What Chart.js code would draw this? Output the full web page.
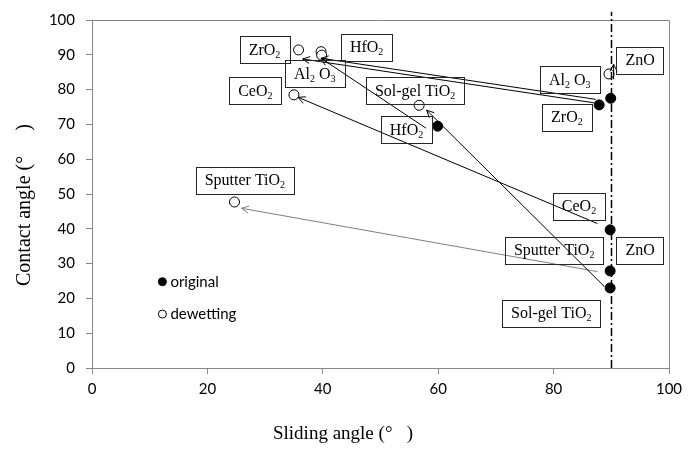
<!DOCTYPE html>
<html>
<head>
<meta charset="utf-8">
<script src="https://cdn.jsdelivr.net/npm/chart.js@4/dist/chart.umd.min.js"></script>
<style>
    html, body { margin: 0; padding: 0; background: #fff; }
    #wrap { width: 695px; height: 449px; }
</style>
</head>
<body>
<div id="wrap"><canvas id="chart" width="695" height="449"></canvas></div>
<script>
// Original state (filled markers)
const xOriginal = [87.9, 89.9, 59.9, 89.8, 89.8, 89.8];
const yOriginal = [75.6, 77.5, 69.5, 39.7, 27.9, 23.0];

// After dewetting (open markers)
const xDewetting = [35.8, 39.7, 39.8, 35.0, 56.7, 24.7, 89.6];
const yDewetting = [91.4, 90.9, 89.9, 78.5, 75.5, 47.7, 84.5];

// Arrows: original -> dewetting
const arrowNames = ['ZrO2', 'Al2O3', 'HfO2', 'CeO2', 'Sputter TiO2', 'Sol-gel TiO2', 'ZnO'];
const arrowFromX = [87.0, 87.3, 57.9, 87.6, 87.6, 88.8, 90.4];
const arrowFromY = [76.2, 77.2, 68.9, 41.5, 27.7, 23.4, 83.0];
const arrowToX = [36.5, 39.7, 39.7, 35.7, 25.9, 58.0, 90.4];
const arrowToY = [88.8, 89.0, 89.0, 77.8, 45.9, 74.1, 87.3];

// Boxed material labels ("_x" = subscript)
const labelText = ['ZrO_2', 'HfO_2', 'Al_2 O_3', 'CeO_2', 'Sol-gel TiO_2', 'HfO_2', 'Al_2 O_3',
    'ZrO_2', 'ZnO', 'CeO_2', 'Sputter TiO_2', 'ZnO', 'Sol-gel TiO_2', 'Sputter TiO_2'];
const labelX = [29.9, 47.6, 38.6, 28.3, 56.0, 54.5, 82.8, 82.3, 95.0, 84.4, 80.1, 95.0, 79.6, 26.5];
const labelY = [91.4, 92.2, 84.5, 79.6, 79.6, 68.5, 82.8, 72.1, 88.5, 46.5, 33.9, 33.9, 15.8, 53.9];

// Vertical reference line and in-plot legend
const refLineX = 89.9;
const legendNames = ['original', 'dewetting'];
const legendX = [12.2, 12.2];
const legendY = [24.8, 15.5];

const xTicks = [0, 20, 40, 60, 80, 100];
const yTicks = [0, 10, 20, 30, 40, 50, 60, 70, 80, 90, 100];
const xTitle = 'Sliding angle (°   )';
const yTitle = 'Contact angle (°     )';

const AXIS = '#868686';
const SERIF = '"Liberation Serif", "DejaVu Serif", serif';
const SANS = 'Lato, "Open Sans", sans-serif';

const toPoints = (xs, ys) => xs.map((x, i) => ({ x, y: ys[i] }));

// Draw text with simple subscripts, centred on (cx, cy)
function drawRich(ctx, str, cx, cy) {
    const parts = [];
    str.split(/(_\w)/).forEach(s => {
        if (!s) return;
        if (s[0] === '_') parts.push({ t: s.slice(1), sub: true });
        else parts.push({ t: s, sub: false });
    });
    const mainFont = '16px ' + SERIF;
    const subFont = '10px ' + SERIF;
    let total = 0;
    parts.forEach(p => {
        ctx.font = p.sub ? subFont : mainFont;
        p.w = ctx.measureText(p.t).width;
        total += p.w;
    });
    let x = cx - total / 2;
    ctx.textBaseline = 'alphabetic';
    ctx.textAlign = 'left';
    parts.forEach(p => {
        ctx.font = p.sub ? subFont : mainFont;
        ctx.fillText(p.t, x, cy + 5 + (p.sub ? 3 : 0));
        x += p.w;
    });
    return total;
}

function drawArrow(ctx, x0, y0, x1, y1, color) {
    const ang = Math.atan2(y1 - y0, x1 - x0);
    const len = 8;
    ctx.save();
    ctx.strokeStyle = color;
    ctx.lineWidth = 1;
    ctx.beginPath();
    ctx.moveTo(x0, y0);
    ctx.lineTo(x1, y1);
    ctx.moveTo(x1 - len * Math.cos(ang - 0.45), y1 - len * Math.sin(ang - 0.45));
    ctx.lineTo(x1, y1);
    ctx.lineTo(x1 - len * Math.cos(ang + 0.45), y1 - len * Math.sin(ang + 0.45));
    ctx.stroke();
    ctx.restore();
}

const decorations = {
    id: 'decorations',
    afterDatasetsDraw(chart) {
        const { ctx, chartArea: a } = chart;
        const xs = chart.scales.x;
        const ys = chart.scales.y;

        // top and right frame
        ctx.save();
        ctx.strokeStyle = AXIS;
        ctx.lineWidth = 1;
        ctx.beginPath();
        ctx.moveTo(a.left, a.top + 0.5);
        ctx.lineTo(a.right + 0.5, a.top + 0.5);
        ctx.lineTo(a.right + 0.5, a.bottom);
        ctx.stroke();
        ctx.restore();

        // dash-dot reference line
        ctx.save();
        ctx.strokeStyle = '#000';
        ctx.lineWidth = 1.5;
        ctx.setLineDash([8, 3, 2, 3]);
        const rx = Math.round(xs.getPixelForValue(refLineX)) + 0.5;
        ctx.beginPath();
        ctx.moveTo(rx, ys.getPixelForValue(0));
        ctx.lineTo(rx, ys.getPixelForValue(102.4));
        ctx.stroke();
        ctx.restore();

        // arrows
        arrowNames.forEach((name, i) => {
            drawArrow(ctx,
                xs.getPixelForValue(arrowFromX[i]), ys.getPixelForValue(arrowFromY[i]),
                xs.getPixelForValue(arrowToX[i]), ys.getPixelForValue(arrowToY[i]),
                name === 'Sputter TiO2' ? '#7f7f7f' : '#000');
        });

        // boxed labels
        ctx.save();
        ctx.fillStyle = '#000';
        labelText.forEach((t, i) => {
            const cx = xs.getPixelForValue(labelX[i]);
            const cy = ys.getPixelForValue(labelY[i]);
            const w = drawRich(ctx, t, cx, cy) + 18;
            const h = 27;
            ctx.strokeStyle = '#262626';
            ctx.lineWidth = 1;
            ctx.strokeRect(Math.round(cx - w / 2) + 0.5, Math.round(cy - h / 2) + 0.5, Math.round(w), h);
        });
        ctx.restore();

        // legend inside the plot
        ctx.save();
        legendNames.forEach((name, i) => {
            const px = xs.getPixelForValue(legendX[i]);
            const py = ys.getPixelForValue(legendY[i]);
            ctx.beginPath();
            ctx.arc(px, py, 4, 0, Math.PI * 2);
            ctx.fillStyle = i === 0 ? '#000' : '#fff';
            ctx.fill();
            ctx.strokeStyle = '#000';
            ctx.lineWidth = 1;
            ctx.stroke();
            ctx.fillStyle = '#000';
            ctx.font = '15px ' + SANS;
            ctx.textAlign = 'left';
            ctx.textBaseline = 'middle';
            ctx.fillText(name, px + 8, py);
        });
        ctx.restore();

        // axis titles (placed as in the figure, not centred on the plot)
        ctx.save();
        ctx.fillStyle = '#000';
        ctx.textAlign = 'left';
        ctx.textBaseline = 'alphabetic';
        ctx.font = '19px ' + SERIF;
        ctx.fillText(xTitle, 273, 439);
        ctx.font = '20px ' + SERIF;
        ctx.translate(30, 286);
        ctx.rotate(-Math.PI / 2);
        ctx.fillText(yTitle, 0, 0);
        ctx.restore();
    }
};

new Chart(document.getElementById('chart'), {
    type: 'scatter',
    data: {
        datasets: [
            {
                label: 'original',
                data: toPoints(xOriginal, yOriginal),
                pointRadius: 5,
                pointBackgroundColor: '#000',
                pointBorderColor: '#000',
                pointBorderWidth: 1
            },
            {
                label: 'dewetting',
                data: toPoints(xDewetting, yDewetting),
                pointRadius: 5,
                pointBackgroundColor: '#fff',
                pointBorderColor: '#000',
                pointBorderWidth: 1
            }
        ]
    },
    options: {
        responsive: false,
        animation: false,
        layout: { padding: { top: 20, right: 26, left: 0, bottom: 0 } },
        plugins: { legend: { display: false }, tooltip: { enabled: false } },
        scales: {
            x: {
                type: 'linear',
                min: 0,
                max: 100,
                afterBuildTicks: s => { s.ticks = xTicks.map(v => ({ value: v })); },
                afterFit: s => { s.height = 81; },
                grid: { drawOnChartArea: false, drawTicks: true, tickLength: 6, color: AXIS },
                border: { color: AXIS },
                ticks: { color: '#000', padding: 6, font: { family: SANS, size: 15 } }
            },
            y: {
                type: 'linear',
                min: 0,
                max: 100,
                afterBuildTicks: s => { s.ticks = yTicks.map(v => ({ value: v })); },
                afterFit: s => { s.width = 92; },
                grid: { drawOnChartArea: false, drawTicks: true, tickLength: 6, color: AXIS },
                border: { color: AXIS },
                ticks: { color: '#000', padding: 11, font: { family: SANS, size: 15 } }
            }
        }
    },
    plugins: [decorations]
});
</script>
</body>
</html>
